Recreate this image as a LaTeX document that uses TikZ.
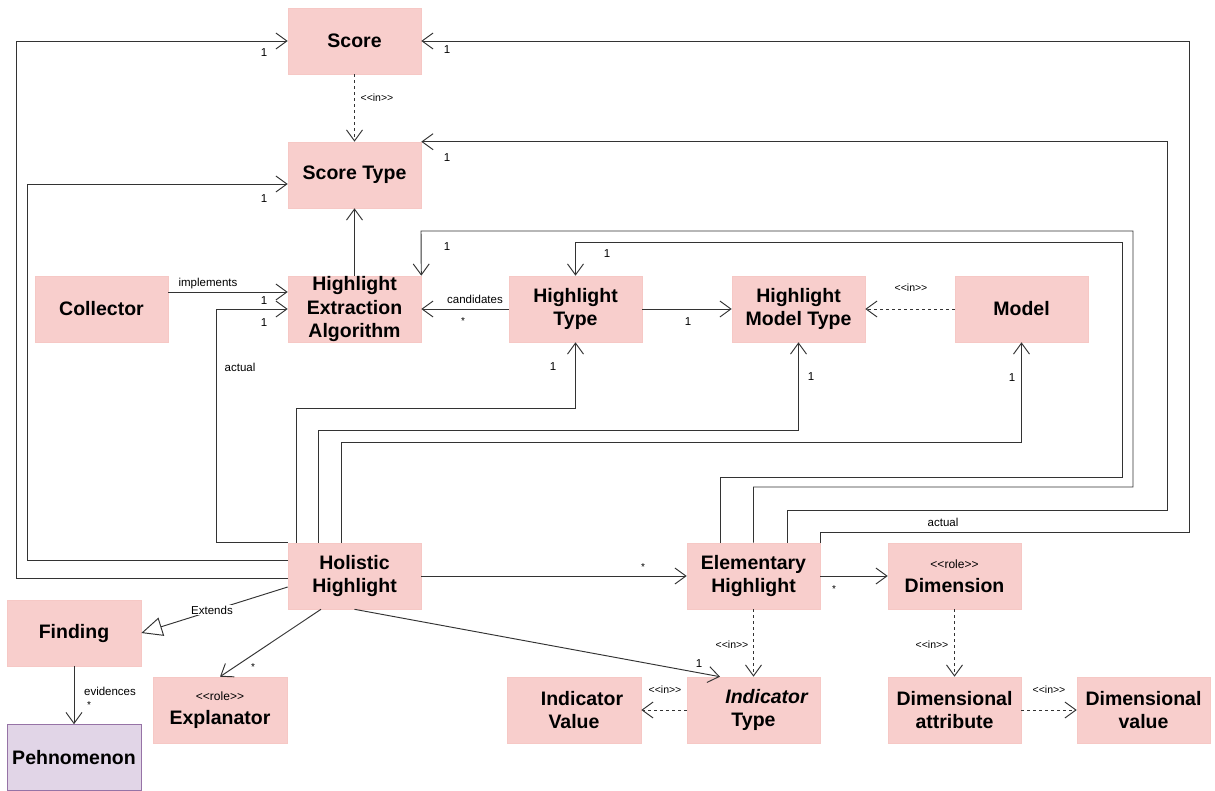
\documentclass[tikz,border=0pt]{standalone}
\usepackage{fontspec}
\setmainfont{Liberation Sans}
\usetikzlibrary{arrows.meta,calc}
\definecolor{boxfill}{HTML}{F8CECC}
\definecolor{boxline}{HTML}{F6C8C5}
\definecolor{phenfill}{HTML}{E1D5E7}
\definecolor{phenline}{HTML}{9673A6}
\definecolor{linec}{HTML}{333333}
\newcommand{\stereo}[1]{<{}<#1>{}>}
\begin{document}
\begin{tikzpicture}[x=1pt,y=-1pt,
  cls/.style={rectangle, fill=boxfill, draw=boxline, line width=0.6pt, minimum width=133pt, minimum height=66pt, inner sep=0pt, align=center, font=\fontsize{19.5}{23.5}\selectfont\bfseries},
  assoc/.style={draw=linec, line width=0.95pt, -{Straight Barb[length=11pt,width=16pt,line width=0.95pt]}},
  dep/.style={assoc, dash pattern=on 3pt off 3pt},
  ext/.style={draw=linec, line width=0.95pt, -{Triangle[open, length=21pt, width=19pt, fill=white, line width=0.95pt]}},
  lbl/.style={font=\fontsize{11.5}{13}\selectfont, inner sep=1pt, text=black},
  star/.style={font=\fontsize{10}{10}\selectfont, inner sep=1pt, text=black},
  tinylbl/.style={font=\fontsize{10.5}{11}\selectfont, inner sep=1pt, text=black},
]
\useasboundingbox (0,0) rectangle (1215,790);
% classes
\node[cls] (score) at (354.5,41) {Score};
\node[cls] (stype) at (354.5,175) {Score Type};
\node[cls] (coll)  at (101.5,309) {Collector};
\node[cls] (hea)   at (354.5,309) {Highlight\\Extraction\\Algorithm};
\node[cls] (ht)    at (575.5,309) {Highlight\\Type};
\node[cls] (hmt)   at (798.5,309) {Highlight\\Model Type};
\node[cls] (model) at (1021.5,309) {Model};
\node[cls] (hh)    at (354.5,576) {Holistic\\Highlight};
\node[cls] (eh)    at (753.5,576) {Elementary\\Highlight};
\node[cls] (dim)   at (954.5,576) {{\fontsize{12}{14}\selectfont\mdseries\stereo{role}}\\Dimension};
\node[cls, minimum width=134pt] (find) at (74,633) {Finding};
\node[cls, minimum width=134pt, fill=phenfill, draw=phenline] (phen) at (74,757.5) {Pehnomenon};
\node[cls, minimum width=134pt] (expl) at (220,710) {{\fontsize{12}{14}\selectfont\mdseries\stereo{role}}\\Explanator};
\node[cls, minimum width=134pt] (ival) at (574,710) {\hspace*{16pt}Indicator\\Value};
\node[cls] (itype) at (753.5,710) {\hspace*{26pt}{\itshape Indicator}\\Type};
\node[cls] (dattr) at (954.5,710) {Dimensional\\attribute};
\node[cls] (dval)  at (1143.5,710) {Dimensional\\value};

% connectors
\draw[dep] (score.south) -- (stype.north);
\draw[assoc] (hea.north) -- (stype.south);
\draw[assoc] ([yshift=17pt]coll.east) -- ([yshift=17pt]hea.west);
\draw[assoc] (ht.west) -- (hea.east);
\draw[assoc] (ht.east) -- (hmt.west);
\draw[dep] (model.west) -- (hmt.east);

\draw[assoc] ([yshift=-2pt]hh.west) -- ++(-271,0) |- (score.west);
\draw[assoc] ([yshift=16pt]hh.west) -- ++(-260,0) |- ([yshift=-9pt]stype.west);
\draw[assoc] (hh.north west) -- ++(-71,0) |- (hea.west);
\draw[assoc] ([xshift=-58.5pt]hh.north) -- ++(0,-134) -| (ht.south);
\draw[assoc] ([xshift=-36.5pt]hh.north) -- ++(0,-112) -| (hmt.south);
\draw[assoc] ([xshift=-13.5pt]hh.north) -- ++(0,-100) -| (model.south);

\draw[assoc] (eh.north east) |- (1189,532) |- (score.east);
\draw[assoc] ([xshift=33.5pt]eh.north) |- (1167,510) |- (stype.north east);
\draw[assoc] (eh.north) |- (1133,487) |- (421,231) -- (hea.north east);
\draw[assoc] ([xshift=-33.5pt]eh.north) |- (1122,477) |- (575.5,242) -- (ht.north);

\draw[assoc] (hh.east) -- (eh.west);
\draw[assoc] (eh.east) -- (dim.west);
\draw[assoc] (hh.south) -- ([xshift=-33.5pt]itype.north);
\draw[assoc] ([xshift=-33.5pt]hh.south) -- (expl.north);
\draw[ext] ([yshift=-11pt]hh.west) -- (find.east);
\draw[assoc] (find.south) -- (phen.north);

\draw[dep] (eh.south) -- (itype.north);
\draw[dep] (itype.west) -- (ival.east);
\draw[dep] (dim.south) -- (dattr.north);
\draw[dep] (dattr.east) -- (dval.west);

% labels
\node[lbl] (l1) at (264,53) {1};
\node[lbl] (l2) at (447,50) {1};
\node[lbl] (l3) at (447,158) {1};
\node[lbl] (l4) at (264,199) {1};
\node[lbl] (l5) at (447,247) {1};
\node[lbl] (l6) at (607,254) {1};
\node[lbl] (l7) at (264,301) {1};
\node[lbl] (l8) at (264,323) {1};
\node[star] (l9) at (463,321) {*};
\node[lbl] (l10) at (688,322) {1};
\node[lbl] (l11) at (553,367) {1};
\node[lbl] (l12) at (811,377) {1};
\node[lbl] (l13) at (1012,378) {1};
\node[star] (l14) at (643,567) {*};
\node[star] (l15) at (834,589) {*};
\node[lbl] (l16) at (699,664) {1};
\node[star] (l17) at (253,667) {*};
\node[star] (l18) at (89,705) {*};

\node[lbl] (t1) at (208,284) {implements};
\node[lbl] (t2) at (475,299) {candidates};
\node[lbl] (t3) at (240,367) {actual};
\node[lbl] (t4) at (943,522) {actual};
\node[lbl, fill=white] (t5) at (212,610) {Extends};
\node[lbl] (t6) at (110,691) {evidences};

\node[tinylbl] (s1) at (377,98) {\stereo{in}};
\node[tinylbl] (s2) at (911,288) {\stereo{in}};
\node[tinylbl] (s3) at (732,645) {\stereo{in}};
\node[tinylbl] (s4) at (665,690) {\stereo{in}};
\node[tinylbl] (s5) at (932,645) {\stereo{in}};
\node[tinylbl] (s6) at (1049,690) {\stereo{in}};
\end{tikzpicture}
\end{document}
